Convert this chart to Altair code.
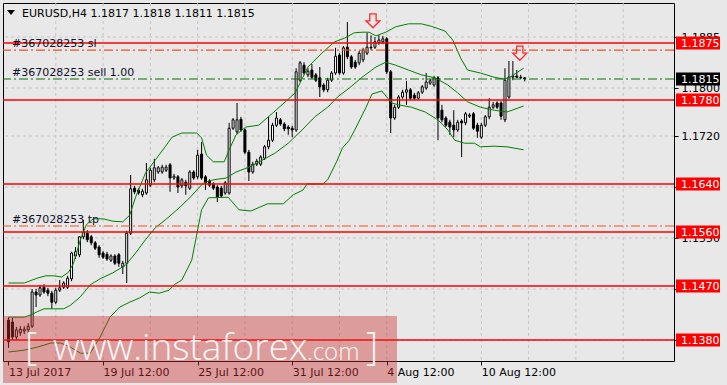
import altair as alt
import pandas as pd

# ---------------- data ----------------
opens = [
1.1413,1.1410,1.1385,1.1392,1.1395,1.1397,1.1403,1.1460,1.1455,1.1468,
1.1463,1.1458,1.1443,1.1463,1.1468,1.1468,1.1482,1.1520,1.1522,1.1552,
1.1558,1.1552,1.1542,1.1535,1.1525,1.1523,1.1513,1.1520,1.1522,1.1502,
1.1508,1.1558,1.1633,1.1630,1.1622,1.1625,1.1638,1.1647,1.1660,1.1660,
1.1663,1.1672,1.1650,1.1652,1.1637,1.1643,1.1633,1.1660,1.1652,1.1690,
1.1652,1.1645,1.1640,1.1635,1.1633,1.1625,1.1625,1.1733,1.1727,1.1748,
1.1730,1.1693,1.1660,1.1673,1.1673,1.1683,1.1702,1.1713,1.1738,1.1747,
1.1740,1.1735,1.1733,1.1730,1.1813,1.1838,1.1822,1.1830,1.1822,1.1817,
1.1805,1.1797,1.1813,1.1825,1.1855,1.1825,1.1868,1.1852,1.1843,1.1842,
1.1847,1.1858,1.1868,1.1868,1.1875,1.1877,1.1882,1.1827,1.1750,1.1768,
1.1785,1.1793,1.1797,1.1788,1.1783,1.1793,1.1800,1.1808,1.1805,1.1817,
1.1763,1.1750,1.1743,1.1738,1.1730,1.1745,1.1742,1.1753,1.1757,1.1738,
1.1718,1.1738,1.1752,1.1768,1.1775,1.1775,1.1747,1.1785,1.1818,1.1820,
1.1818,1.1817]
highs = [
1.1418,1.1417,1.1402,1.1403,1.1403,1.1408,1.1465,1.1465,1.1472,1.1473,
1.1467,1.1462,1.1467,1.1480,1.1478,1.1487,1.1527,1.1535,1.1553,1.1580,
1.1563,1.1555,1.1545,1.1538,1.1528,1.1527,1.1523,1.1523,1.1525,1.1512,
1.1562,1.1655,1.1637,1.1633,1.1632,1.1675,1.1667,1.1682,1.1670,1.1672,
1.1672,1.1675,1.1657,1.1655,1.1650,1.1647,1.1663,1.1663,1.1697,1.1710,
1.1655,1.1648,1.1643,1.1638,1.1637,1.1645,1.1742,1.1750,1.1775,1.1752,
1.1733,1.1697,1.1677,1.1682,1.1688,1.1705,1.1752,1.1742,1.1760,1.1750,
1.1743,1.1738,1.1737,1.1833,1.1845,1.1843,1.1833,1.1840,1.1825,1.1835,
1.1808,1.1817,1.1828,1.1867,1.1858,1.1870,1.1910,1.1855,1.1847,1.1862,
1.1867,1.1892,1.1888,1.1885,1.1888,1.1887,1.1885,1.1830,1.1772,1.1788,
1.1797,1.1812,1.1800,1.1792,1.1795,1.1805,1.1825,1.1815,1.1820,1.1820,
1.1772,1.1753,1.1747,1.1763,1.1747,1.1748,1.1760,1.1758,1.1760,1.1742,
1.1742,1.1755,1.1783,1.1777,1.1778,1.1778,1.1833,1.1845,1.1845,1.1830,
1.1822,1.1818]
lows = [
1.1367,1.1380,1.1380,1.1387,1.1390,1.1392,1.1400,1.1435,1.1452,1.1457,
1.1453,1.1432,1.1440,1.1460,1.1465,1.1465,1.1478,1.1515,1.1518,1.1548,
1.1543,1.1538,1.1530,1.1517,1.1515,1.1512,1.1510,1.1505,1.1502,1.1490,
1.1475,1.1555,1.1623,1.1622,1.1618,1.1622,1.1635,1.1643,1.1657,1.1657,
1.1660,1.1627,1.1647,1.1625,1.1633,1.1622,1.1630,1.1647,1.1648,1.1647,
1.1630,1.1635,1.1630,1.1610,1.1617,1.1622,1.1622,1.1730,1.1723,1.1727,
1.1690,1.1645,1.1657,1.1670,1.1670,1.1680,1.1698,1.1710,1.1735,1.1737,
1.1728,1.1722,1.1718,1.1727,1.1810,1.1822,1.1818,1.1815,1.1810,1.1785,
1.1793,1.1793,1.1810,1.1822,1.1822,1.1822,1.1848,1.1832,1.1832,1.1838,
1.1843,1.1855,1.1863,1.1865,1.1872,1.1873,1.1823,1.1725,1.1747,1.1765,
1.1782,1.1772,1.1780,1.1780,1.1780,1.1790,1.1797,1.1805,1.1802,1.1713,
1.1743,1.1735,1.1722,1.1718,1.1727,1.1685,1.1738,1.1750,1.1730,1.1717,
1.1715,1.1735,1.1748,1.1765,1.1765,1.1747,1.1743,1.1782,1.1813,1.1817,
1.1815,1.1811]
closes = [
1.1377,1.1385,1.1397,1.1398,1.1398,1.1403,1.1460,1.1455,1.1467,1.1460,
1.1458,1.1443,1.1463,1.1467,1.1475,1.1483,1.1525,1.1527,1.1552,1.1560,
1.1547,1.1542,1.1533,1.1522,1.1518,1.1515,1.1520,1.1508,1.1508,1.1508,
1.1558,1.1632,1.1627,1.1625,1.1628,1.1647,1.1663,1.1667,1.1667,1.1668,
1.1668,1.1650,1.1653,1.1635,1.1647,1.1637,1.1660,1.1650,1.1688,1.1650,
1.1642,1.1638,1.1633,1.1618,1.1620,1.1642,1.1733,1.1747,1.1747,1.1730,
1.1693,1.1660,1.1673,1.1678,1.1685,1.1702,1.1713,1.1738,1.1750,1.1740,
1.1732,1.1732,1.1730,1.1827,1.1842,1.1825,1.1828,1.1818,1.1813,1.1802,
1.1797,1.1813,1.1825,1.1853,1.1825,1.1867,1.1852,1.1835,1.1835,1.1858,
1.1863,1.1868,1.1867,1.1877,1.1880,1.1882,1.1827,1.1750,1.1768,1.1785,
1.1793,1.1797,1.1783,1.1783,1.1792,1.1802,1.1810,1.1812,1.1817,1.1750,
1.1747,1.1738,1.1735,1.1730,1.1743,1.1742,1.1757,1.1755,1.1733,1.1728,
1.1738,1.1752,1.1768,1.1772,1.1768,1.1753,1.1813,1.1818,1.1820,1.1818,
1.1817,1.1815]

bb_upper_bar = [0,4,7.25,9.5,11.5,13.5,15.25,16.5,18.25,19.75,21.5,24,26.5,29,30.75,32.25,34.75,37.25,39.75,41.5,
                44,47.75,49,50.25,52,54.75,56,57.75,60.25,63.5,67,70.25,72.75,76,79.5,82.75,85.25,87.75,89.75,91.5,
                93.25,95.75,98.25,101.5,104.75,107.25,110.75,112.75,114.75,116.5,119.75,123.25,125.75,127.25,130.75]
bb_upper = [1.1475,1.1475,1.1483,1.1487,1.1487,1.1485,1.1493,1.1508,1.1547,1.1572,1.1582,1.1582,1.1578,1.1577,1.1588,1.1618,1.1658,1.1680,1.1702,1.1718,
            1.1725,1.1725,1.1717,1.1688,1.1677,1.1677,1.1697,1.1722,1.1735,1.1738,1.1758,1.1777,1.1792,1.1835,1.1858,1.1877,1.1883,1.1892,1.1893,1.1893,
            1.1887,1.1893,1.1902,1.1907,1.1907,1.1903,1.1895,1.1880,1.1850,1.1830,1.1825,1.1818,1.1815,1.1818,1.1833]
bb_mid_bar = [0,4,5.75,7.25,9,11.5,14,15.75,18.25,20.75,23.25,26.5,29.75,32.25,34.75,37.25,39.75,42.75,46,49.5,
              52,55.25,57.75,61,64.5,67.75,71,74.5,77.75,81,83.5,86.5,89.75,93.25,95.75,98.25,101.5,104.75,108.25,111.5,
              114,116.5,119.75,123.25,126.5,130.75]
bb_mid = [1.1418,1.1418,1.1422,1.1427,1.1432,1.1432,1.1432,1.1438,1.1452,1.1472,1.1482,1.1492,1.1505,1.1525,1.1547,1.1567,1.1580,1.1597,1.1617,1.1642,
          1.1647,1.1650,1.1660,1.1668,1.1680,1.1692,1.1708,1.1730,1.1752,1.1768,1.1785,1.1800,1.1818,1.1835,1.1843,1.1838,1.1830,1.1822,1.1817,1.1805,
          1.1792,1.1777,1.1768,1.1763,1.1760,1.1770]
bb_low_bar = [0,4,7.25,10.75,13.25,15.75,18.25,20.75,23.25,25.75,28.25,30.75,33.25,35.75,38.25,40.75,42.25,44,46.5,49,
              50.75,55.75,58.5,61.5,65.75,69.75,72.25,74.75,75.75,79.75,81,83.25,84.75,86.5,88.25,90.75,92.25,94.75,97.25,99,
              102.25,105.75,109,111.5,113.25,115.75,118.25,119.75,123.25,126.5,130.75]
bb_low = [1.1360,1.1363,1.1368,1.1375,1.1375,1.1368,1.1358,1.1358,1.1385,1.1418,1.1435,1.1443,1.1450,1.1460,1.1458,1.1463,1.1473,1.1480,1.1513,1.1597,
          1.1617,1.1618,1.1597,1.1595,1.1607,1.1607,1.1622,1.1630,1.1640,1.1640,1.1647,1.1677,1.1700,1.1713,1.1735,1.1768,1.1790,1.1795,1.1775,1.1772,
          1.1768,1.1760,1.1747,1.1730,1.1713,1.1708,1.1708,1.1702,1.1703,1.1702,1.1697]

red_levels = [1.1875, 1.1780, 1.1640, 1.1560, 1.1470, 1.1380]
order_prices = [1.1863, 1.1815, 1.1570]
order_labels = ["#367028253 sl", "#367028253 sell 1.00", "#367028253 tp"]
order_colors = ["#f0521e", "#0a6e0a", "#f0521e"]
current_price = [1.1815]
arrow_bars = [92.5, 129.75]
arrow_prices = [1.1912, 1.1858]

grid_prices = [1.1885, 1.1800, 1.1720, 1.1635, 1.1550, 1.1465, 1.1380]
hidden_grid_labels = [1.1635, 1.1465, 1.1380]   # fully covered by the red price boxes
grid_bars = [12, 24, 36, 48, 60, 72, 84, 96, 108, 120, 132, 144, 156]
date_bars = [0, 24, 48, 72, 96, 120]
date_labels = ["13 Jul 2017", "19 Jul 12:00", "25 Jul 12:00", "31 Jul 12:00", "4 Aug 12:00", "10 Aug 12:00"]
title_text = "EURUSD,H4  1.1817 1.1818 1.1811 1.1815"

# ---------------- chart ----------------
FONT = "DejaVu Sans"
xs = alt.Scale(domain=[-0.125, 167.625], nice=False, zero=False)
ys = alt.Scale(domain=[1.13450, 1.19417], nice=False, zero=False)

lab_expr = "[" + ",".join("'%s'" % s for s in date_labels) + "][indexof([" + ",".join(str(b) for b in date_bars) + "], datum.value)]"
ylab_expr = "indexof([" + ",".join(str(v) for v in hidden_grid_labels) + "], datum.value) >= 0 ? '' : format(datum.value, '.4f')"
xaxis = alt.Axis(values=date_bars, labelExpr=lab_expr, orient="bottom", grid=False, domain=False,
                 tickSize=4, tickColor="black", labelColor="black", labelFont=FONT, labelFontSize=11,
                 labelAlign="left", labelFlush=False, labelPadding=1, labelOverlap=False, title=None,
                 zindex=0, labelBaseline="top")
yaxis = alt.Axis(values=grid_prices, labelExpr=ylab_expr, orient="right", grid=False, domain=False,
                 tickSize=4, tickColor="black", labelColor="black", labelFont=FONT, labelFontSize=11,
                 labelPadding=3, labelFlush=False, labelOverlap=False, title=None, zindex=0,
                 labelBaseline="middle")


def X(f):
    return alt.X(f + ":Q", scale=xs, axis=xaxis)


def Y(f):
    return alt.Y(f + ":Q", scale=ys, axis=yaxis)


candles = pd.DataFrame({"bar": list(range(len(opens))), "open": opens, "high": highs,
                        "low": lows, "close": closes})
bb_df = pd.concat([
    pd.DataFrame({"bar": bb_upper_bar, "price": bb_upper, "band": "upper"}),
    pd.DataFrame({"bar": bb_mid_bar, "price": bb_mid, "band": "mid"}),
    pd.DataFrame({"bar": bb_low_bar, "price": bb_low, "band": "low"}),
])
one = pd.DataFrame({"a": [0]})

hgrid = alt.Chart(pd.DataFrame({"price": grid_prices})).mark_rule(
    color="#c4c4c4", strokeDash=[3, 3], strokeWidth=1).encode(y=Y("price"))
vgrid = alt.Chart(pd.DataFrame({"bar": grid_bars})).mark_rule(
    color="#c4c4c4", strokeDash=[3, 3], strokeWidth=1).encode(x=X("bar"))

wicks = alt.Chart(candles).mark_rule(color="black", strokeWidth=1).encode(
    x=X("bar"), y=Y("low"), y2="high")
bodies = alt.Chart(candles).mark_bar(size=2, stroke="black", strokeWidth=1).encode(
    x=X("bar"), y=Y("open"), y2="close",
    fill=alt.condition("datum.close >= datum.open", alt.value("white"), alt.value("black")))

bands = alt.Chart(bb_df).mark_line(color="#008000", strokeWidth=1).encode(
    x=X("bar"), y=Y("price"), detail="band:N")

red_lines = alt.Chart(pd.DataFrame({"price": red_levels})).mark_rule(
    color="#ff0000", strokeWidth=1.5).encode(y=Y("price"))

orders = pd.DataFrame({"price": order_prices, "label": order_labels, "col": order_colors})
order_lines = alt.Chart(orders).mark_rule(strokeDash=[9, 3, 2, 3], strokeWidth=1.2).encode(
    y=Y("price"), color=alt.Color("col:N", scale=None))
order_text = alt.Chart(orders).mark_text(align="left", baseline="alphabetic", dy=-3,
                                          font=FONT, fontSize=11, color="#10102a").encode(
    x=alt.value(9), y=Y("price"), text="label:N")

arrow_path = "M-0.45,-1 L0.45,-1 L0.45,0 L1,0 L0,1 L-1,0 L-0.45,0 Z"
arrows = alt.Chart(pd.DataFrame({"bar": arrow_bars, "price": arrow_prices})).mark_point(
    shape=arrow_path, size=196, filled=False, stroke="#ff2a2a", strokeWidth=1.3, opacity=1).encode(
    x=X("bar"), y=Y("price"))

title_tri = alt.Chart(one).mark_point(shape="M-1,-0.6 L1,-0.6 L0,0.6 Z", size=64, filled=True,
                                       color="black", opacity=1).encode(
    x=alt.value(8), y=alt.value(9.5))
title = alt.Chart(pd.DataFrame({"t": [title_text]})).mark_text(
    align="left", baseline="alphabetic", font=FONT, fontSize=11, color="black").encode(
    x=alt.value(19), y=alt.value(14), text="t:N")

box_path = "M-1,-0.3 L1,-0.3 L1,0.3 L-1,0.3 Z"
red_boxes = alt.Chart(pd.DataFrame({"price": red_levels})).mark_point(
    shape=box_path, size=1936, filled=True, color="#ff0000", opacity=1, clip=False).encode(
    x=alt.value(695), y=Y("price"))
red_box_text = alt.Chart(pd.DataFrame({"price": red_levels})).mark_text(
    align="left", baseline="middle", dy=1, font=FONT, fontSize=11, color="white").encode(
    x=alt.value(678), y=Y("price"), text=alt.Text("price:Q", format=".4f"))
cur_box = alt.Chart(pd.DataFrame({"price": current_price})).mark_point(
    shape=box_path, size=1936, filled=True, color="black", opacity=1).encode(
    x=alt.value(695), y=Y("price"))
cur_text = alt.Chart(pd.DataFrame({"price": current_price})).mark_text(
    align="left", baseline="middle", dy=1, font=FONT, fontSize=11, color="white").encode(
    x=alt.value(678), y=Y("price"), text=alt.Text("price:Q", format=".4f"))

wm_rect = alt.Chart(one).mark_rect(color="#cc3333", opacity=0.42).encode(
    x=alt.value(0), x2=alt.value(394), y=alt.value(313), y2=alt.value(380))
wm_parts = pd.DataFrame({"t": ["[", "www.instaforex", ".com", "]"],
                         "px": [22, 50, 304, 363], "fs": [38, 37, 24, 38]})
wm_text = alt.Chart(wm_parts).mark_text(align="left", baseline="alphabetic", font="Open Sans",
                                         fontWeight=300, color="white", opacity=0.92).encode(
    x=alt.X("px:Q", scale=None, axis=None), y=alt.value(357), text="t:N",
    size=alt.Size("fs:Q", scale=None, legend=None))

chart = alt.layer(
    hgrid, vgrid, wicks, bodies, bands, red_lines, order_lines, order_text, arrows,
    title_tri, title, red_boxes, red_box_text, cur_box, cur_text, wm_rect, wm_text
).properties(
    width=671, height=358,
    padding={"left": 3, "top": 3, "right": 53, "bottom": 24},
    autosize=alt.AutoSizeParams(type="none"),
    background="#e8e8e8",
).configure_view(stroke="black", strokeWidth=1)

chart.save("out.html", embed_options={"renderer": "svg", "actions": False})
